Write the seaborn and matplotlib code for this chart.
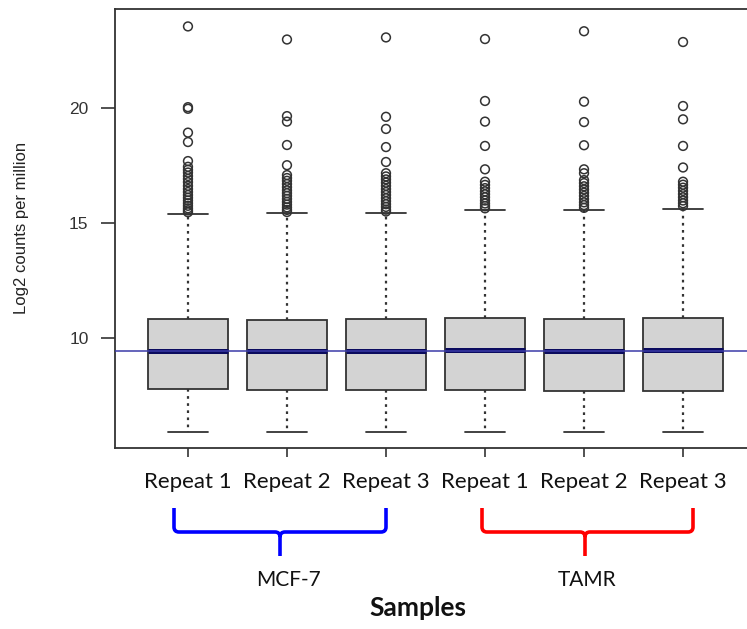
import numpy as np
import pandas as pd
import matplotlib
matplotlib.use("Agg")
import matplotlib.pyplot as plt
from matplotlib.path import Path
from matplotlib.patches import PathPatch
import seaborn as sns

# ---------------- data ----------------
samples = ["Repeat 1", "Repeat 2", "Repeat 3", "Repeat 1", "Repeat 2", "Repeat 3"]
groups = ["MCF-7", "TAMR"]
whisker_low = [5.89, 5.89, 5.89, 5.89, 5.89, 5.89]
q1 = [7.76, 7.72, 7.72, 7.72, 7.68, 7.68]
medians = [9.43, 9.43, 9.43, 9.46, 9.43, 9.46]
q3 = [10.80, 10.77, 10.80, 10.85, 10.82, 10.85]
whisker_high = [15.39, 15.42, 15.44, 15.57, 15.57, 15.63]

fliers_mcf_r1 = [23.57, 20.05, 19.98, 18.94, 18.53, 17.70, 17.45, 17.32, 17.20, 17.05,
                 16.92, 16.78, 16.62, 16.48, 16.35, 16.22, 16.10, 15.98, 15.86, 15.75,
                 15.64, 15.55, 15.47]
fliers_mcf_r2 = [23.00, 19.66, 19.42, 18.40, 17.52, 17.09, 16.96, 16.84, 16.70, 16.56,
                 16.42, 16.30, 16.18, 16.05, 15.92, 15.80, 15.68, 15.57, 15.48]
fliers_mcf_r3 = [23.09, 19.63, 19.10, 18.31, 17.66, 17.17, 17.03, 16.90, 16.76, 16.62,
                 16.48, 16.35, 16.22, 16.08, 15.95, 15.82, 15.70, 15.58, 15.50]
fliers_tamr_r1 = [23.02, 20.32, 19.42, 18.36, 17.34, 16.80, 16.66, 16.52, 16.38, 16.25,
                  16.12, 15.98, 15.85, 15.74, 15.64]
fliers_tamr_r2 = [23.36, 20.29, 19.40, 18.39, 17.34, 17.17, 16.87, 16.74, 16.60, 16.46,
                  16.32, 16.18, 16.04, 15.90, 15.78, 15.66]
fliers_tamr_r3 = [22.89, 20.10, 19.52, 18.36, 17.42, 16.80, 16.67, 16.54, 16.40, 16.26,
                  16.12, 15.98, 15.86, 15.74]
fliers = [fliers_mcf_r1, fliers_mcf_r2, fliers_mcf_r3,
          fliers_tamr_r1, fliers_tamr_r2, fliers_tamr_r3]

reference_line = 9.44
yticks = [10, 15, 20]
y_label = "Log2 counts per million"
x_label = "Samples"

# ---------------- style ----------------
sns.set_style("white")
plt.rcParams["font.family"] = ["Liberation Sans", "DejaVu Sans"]

W, H = 747, 629
fig = plt.figure(figsize=(W / 100, H / 100), dpi=100)

def fx(px):
    return px / W

def fy(py):
    return 1 - py / H

ax = fig.add_axes([fx(115), fy(448), fx(756) - fx(115), fy(9) - fy(448)])

dark = "#333333"
positions = list(range(len(samples)))
stats = []
for i in positions:
    stats.append(dict(whislo=whisker_low[i], q1=q1[i], med=medians[i],
                      q3=q3[i], whishi=whisker_high[i], fliers=[], label=samples[i]))

ax.bxp(stats, positions=positions, widths=0.81, capwidths=0.40,
       patch_artist=True, showfliers=False,
       boxprops=dict(facecolor="#d3d3d3", edgecolor=dark, linewidth=1.3),
       whiskerprops=dict(color=dark, linestyle=(0, (1.2, 2.0)), linewidth=1.6),
       capprops=dict(color=dark, linewidth=1.3),
       medianprops=dict(color="#0b0b5e", linewidth=3.6, solid_capstyle="butt"))

# outliers
flier_df = pd.DataFrame({
    "pos": np.concatenate([[i] * len(f) for i, f in enumerate(fliers)]),
    "value": np.concatenate(fliers),
})
sns.scatterplot(data=flier_df, x="pos", y="value", ax=ax, marker="o", s=40,
                facecolor="none", edgecolor=dark, linewidth=1.1, legend=False,
                zorder=3)

ax.axhline(reference_line, color="#3a3aa8", linewidth=1.1, zorder=4)

ax.set_xlim(-0.737, 5.737)
ax.set_ylim(5.19, 24.33)
ax.set_xlabel("")
ax.set_ylabel("")

for sp in ax.spines.values():
    sp.set_color(dark)
    sp.set_linewidth(1.3)
    sp.set_visible(True)

ax.set_yticks(yticks)
ax.set_yticklabels([str(t) for t in yticks])
ax.tick_params(axis="y", left=True, length=10, width=1.2, pad=9,
               labelsize=12.5, colors=dark, labelcolor=dark)
ax.set_xticks(positions)
ax.set_xticklabels(samples, fontfamily="Lato", fontsize=16, color="#111111")
ax.tick_params(axis="x", bottom=True, length=6.5, width=1.2, pad=11, colors=dark,
               labelcolor="#111111")

fig.text(fx(22), fy(228), y_label, rotation=90, ha="center", va="center",
         fontsize=12, color="#222222")

# group braces
def brace(xl, xr, xm, ytop, yh, ybot, color):
    r = 5
    pts = [
        (xl, ytop), (xl, yh - r), (xl, yh), (xl + r, yh), (xm - r, yh), (xm, yh), (xm, yh + r),
        (xm, ybot),
        (xr, ytop), (xr, yh - r), (xr, yh), (xr - r, yh), (xm + r, yh), (xm, yh), (xm, yh + r),
    ]
    codes = [Path.MOVETO, Path.LINETO, Path.CURVE3, Path.CURVE3, Path.LINETO,
             Path.CURVE3, Path.CURVE3, Path.LINETO,
             Path.MOVETO, Path.LINETO, Path.CURVE3, Path.CURVE3, Path.LINETO,
             Path.CURVE3, Path.CURVE3]
    verts = [(fx(x), fy(y)) for x, y in pts]
    patch = PathPatch(Path(verts, codes), transform=fig.transFigure, fill=False,
                      edgecolor=color, linewidth=2.6, capstyle="butt", joinstyle="round")
    fig.add_artist(patch)

brace(174, 386, 280, 508, 532, 556, "#0000ff")
brace(482, 693, 585, 508, 532, 556, "#ff0000")

fig.text(fx(288), fy(580), groups[0], ha="center", va="center", fontsize=15,
         fontfamily="Lato", color="#111111")
fig.text(fx(587), fy(580), groups[1], ha="center", va="center", fontsize=15,
         fontfamily="Lato", color="#111111")
fig.text(fx(418), fy(608), x_label, ha="center", va="center", fontsize=19,
         fontweight="bold", fontfamily="Lato", color="#111111")

fig.savefig("out.png", dpi=100, facecolor="white")
